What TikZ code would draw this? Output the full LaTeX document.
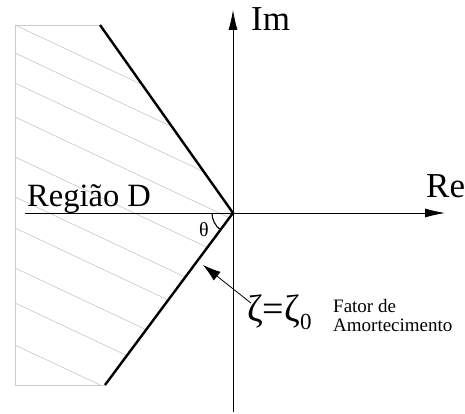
\documentclass[tikz,border=0pt]{standalone}
\usepackage{fontspec}
\setmainfont{Liberation Serif}
\usetikzlibrary{positioning,arrows.meta}

\begin{document}
\begin{tikzpicture}[x=1pt,y=1pt,
  axis/.style={line width=0.8pt,-{Latex[length=20pt,width=9pt]}},
  bound/.style={line width=2.4pt},
  hatch/.style={gray!45,line width=0.6pt},
  pointer/.style={line width=0.8pt,-{Latex[length=18pt,width=11pt]}},
  lbl/.style={inner sep=0pt}]
  \useasboundingbox (-233,-201) rectangle (232,213);

  % Region D, hatched
  \begin{scope}
    \clip (-218,188) -- (-133,188) -- (0,0) -- (-128,-172) -- (-218,-172) -- cycle;
    \foreach \y in {25,53,83,117,157,197,228,268,303,345}
      \draw[hatch] (-218,213-\y) -- ++(300,-141);
  \end{scope}
  \draw[gray!40,line width=0.8pt] (-133,188) -- (-218,188) -- (-218,-172) -- (-128,-172);

  % Axes
  \coordinate (O) at (0,0);
  \draw[axis] (-208,0) -- (212,0);
  \draw[axis] (0,-199) -- (0,203);

  % Damping boundary
  \draw[bound] (-133,188) -- (O) -- (-128,-172);
  \draw[line width=1.1pt] (-21,0) arc[start angle=180,end angle=233,radius=21];

  % Labels
  \node[lbl,anchor=base west,font=\fontsize{35}{35}\selectfont] (im) at (18,182) {Im};
  \node[lbl,anchor=base west,font=\fontsize{35}{35}\selectfont] (re) at (193,15) {Re};
  \node[lbl,anchor=base west,font=\fontsize{32.5}{32.5}\selectfont] (regiao) at (-206,6) {Região D};
  \node[lbl,font=\fontsize{20}{20}\selectfont] (theta) at (-29,-17) {θ};
  \node[lbl,anchor=base west,font=\fontsize{38}{38}\selectfont] (zeta) at (14,-108)
    {ζ=ζ\raisebox{-0.22em}{\fontsize{23}{23}\selectfont 0}};
  \node[lbl,anchor=north west,align=left,font=\fontsize{19}{19}\selectfont] (fator) at (100,-86)
    {Fator de\\Amortecimento};
  \coordinate (ztip) at (-30,-52);
  \draw[pointer] ([xshift=4pt,yshift=-9pt]zeta.north west) -- (ztip);
\end{tikzpicture}
\end{document}
